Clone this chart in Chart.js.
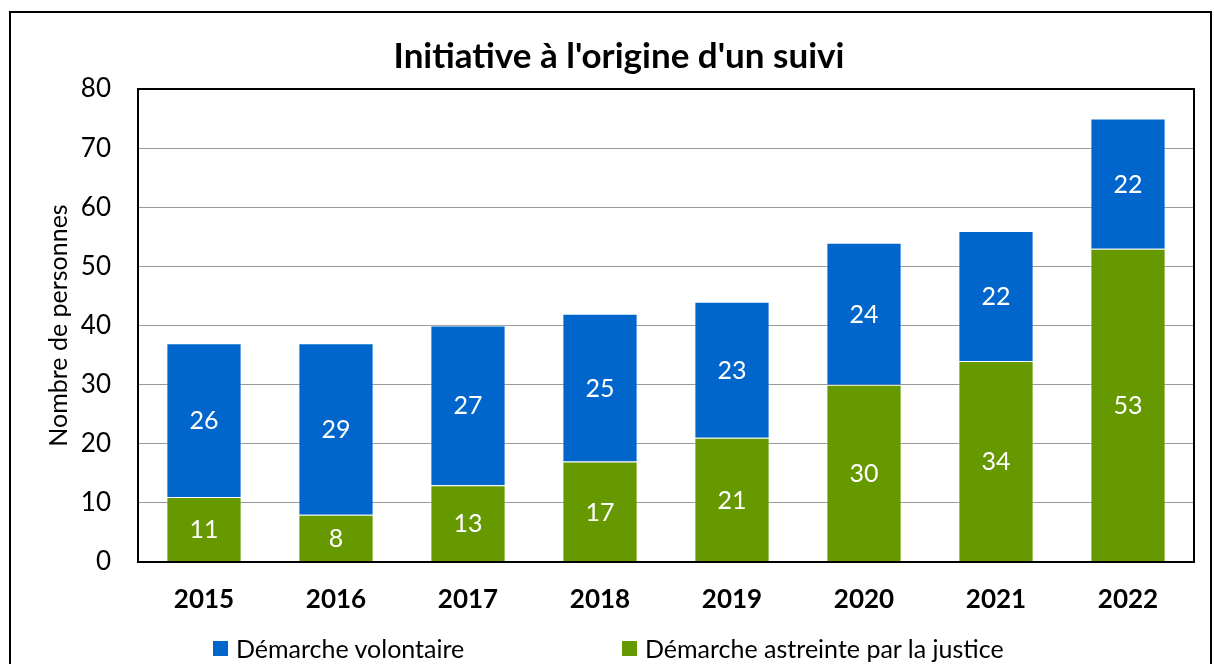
<!DOCTYPE html>
<html lang="fr">
<head>
<meta charset="utf-8">
<script src="https://cdn.jsdelivr.net/npm/chart.js@4"></script>
<style>
    body { margin: 0; background: #fff; }
    #wrap { position: relative; width: 1214px; height: 664px; overflow: hidden; }
    #frame { position: absolute; left: 9px; top: 11px; width: 1199px; height: 700px; border: 2px solid #000; }
    #chart { position: absolute; left: 0; top: 0; }
    #legend { position: absolute; left: 0; top: 633px; width: 1214px; height: 30px; font: 25px Lato, sans-serif; color: #000; }
    .item { position: absolute; top: 0; display: flex; align-items: center; height: 30px; }
    .box { width: 15px; height: 15px; margin-right: 8px; }
</style>
</head>
<body>
<div id="wrap">
    <div id="frame"></div>
    <canvas id="chart" width="1214" height="664"></canvas>
    <div id="legend"></div>
</div>
<script>
const years = ["2015", "2016", "2017", "2018", "2019", "2020", "2021", "2022"];
const justice = [11, 8, 13, 17, 21, 30, 34, 53];
const volontaire = [26, 29, 27, 25, 23, 24, 22, 22];
const yTicks = [0, 10, 20, 30, 40, 50, 60, 70, 80];

const FONT = "Lato, sans-serif";

// valeurs en blanc au milieu de chaque segment
const valueLabels = {
    id: "valueLabels",
    afterDatasetsDraw(chart) {
        const ctx = chart.ctx;
        ctx.save();
        ctx.fillStyle = "#fff";
        ctx.font = "25px " + FONT;
        ctx.textAlign = "center";
        ctx.textBaseline = "middle";
        chart.data.datasets.forEach((ds, i) => {
            chart.getDatasetMeta(i).data.forEach((bar, j) => {
                const p = bar.getProps(["x", "y", "base"], true);
                ctx.fillText(String(ds.data[j]), p.x, (p.y + p.base) / 2 + 1);
            });
        });
        ctx.restore();
    },
};

// cadre noir autour de la zone de tracé
const plotFrame = {
    id: "plotFrame",
    afterDraw(chart) {
        const a = chart.chartArea;
        const ctx = chart.ctx;
        ctx.save();
        ctx.strokeStyle = "#000";
        ctx.lineWidth = 2;
        ctx.strokeRect(a.left, a.top, a.right - a.left, a.bottom - a.top);
        ctx.restore();
    },
};

const chart = new Chart(document.getElementById("chart"), {
    type: "bar",
    data: {
        labels: years,
        datasets: [
            {
                label: "Démarche astreinte par la justice",
                data: justice,
                backgroundColor: "#669900",
                borderColor: "rgba(255,255,255,0.35)",
                borderWidth: 1,
                borderSkipped: "bottom",
            },
            {
                label: "Démarche volontaire",
                data: volontaire,
                backgroundColor: "#0066cc",
                borderColor: "rgba(255,255,255,0.35)",
                borderWidth: 1,
                borderSkipped: "bottom",
            },
        ],
    },
    options: {
        responsive: false,
        animation: false,
        layout: { padding: { left: 44, right: 20, top: 0, bottom: 38 } },
        datasets: { bar: { categoryPercentage: 1, barPercentage: 0.57 } },
        scales: {
            x: {
                stacked: true,
                grid: { display: false, drawTicks: false },
                border: { color: "#000", width: 2 },
                ticks: { color: "#000", padding: 22, font: { family: FONT, size: 26, weight: "bold" } },
                afterFit: (s) => { s.height = 64; },
            },
            y: {
                stacked: true,
                min: 0,
                max: 80,
                afterBuildTicks: (s) => { s.ticks = yTicks.map((v) => ({ value: v })); },
                grid: { color: "#9a9a9a", lineWidth: 1, drawTicks: false },
                border: { display: false },
                ticks: { color: "#000", padding: 27, font: { family: FONT, size: 26 } },
                title: {
                    display: true,
                    text: "Nombre de personnes",
                    color: "#000",
                    padding: { top: 0, bottom: 0 },
                    font: { family: FONT, size: 25 },
                },
                afterFit: (s) => { s.width = 94; },
            },
        },
        plugins: {
            legend: { display: false },
            tooltip: { enabled: false },
            title: {
                display: true,
                text: "Initiative à l'origine d'un suivi",
                color: "#000",
                padding: { top: 36, bottom: 11 },
                font: { family: FONT, size: 35, weight: "bold" },
            },
        },
    },
    plugins: [valueLabels, plotFrame],
});

// légende : volontaire d'abord, comme dans l'original
const legend = document.getElementById("legend");
const legendX = [213, 622];
[1, 0].forEach((di, k) => {
    const ds = chart.data.datasets[di];
    const item = document.createElement("div");
    item.className = "item";
    item.style.left = legendX[k] + "px";
    item.innerHTML = '<span class="box" style="background:' + ds.backgroundColor + '"></span><span>' + ds.label + "</span>";
    legend.appendChild(item);
});
</script>
</body>
</html>
